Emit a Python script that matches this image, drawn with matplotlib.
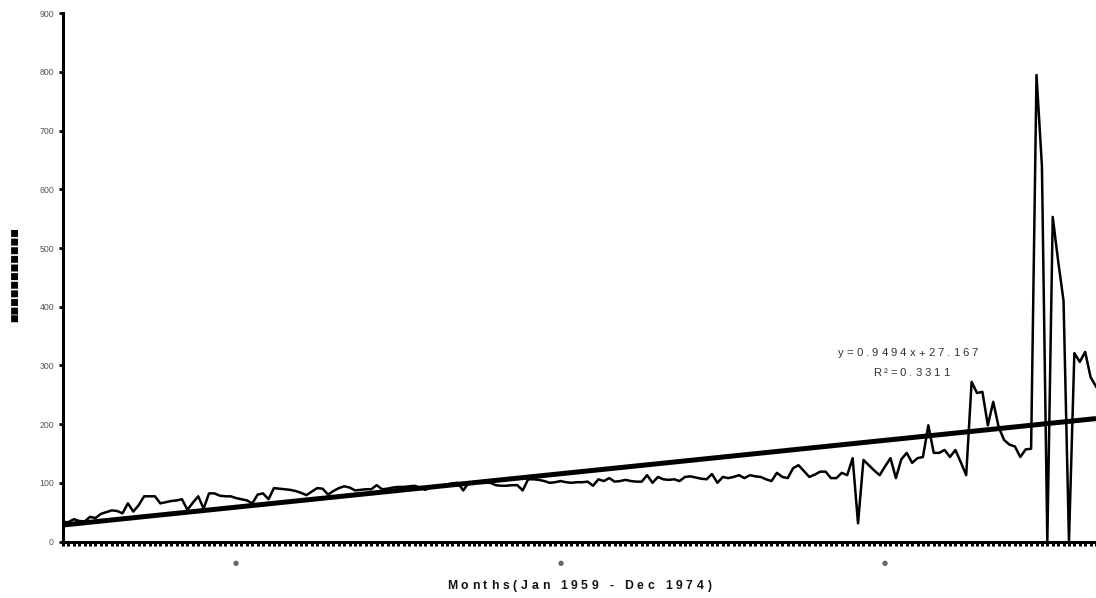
import matplotlib
matplotlib.use("Agg")
import matplotlib.pyplot as plt
import numpy as np
from matplotlib.font_manager import FontProperties

# Monthly values, Jan 1959 - Dec 1974 (one list per year)
y1959 = [33, 33, 38, 35, 34, 42, 40, 47, 50, 53, 52, 48]
y1960 = [65, 51, 62, 77, 77, 77, 65, 67, 69, 70, 72, 54]
y1961 = [66, 77, 56, 82, 82, 78, 77, 77, 74, 72, 70, 65]
y1962 = [80, 82, 72, 91, 90, 89, 88, 86, 83, 79, 85, 91]
y1963 = [90, 80, 86, 91, 94, 92, 87, 88, 89, 89, 96, 89]
y1964 = [90, 92, 93, 93, 94, 95, 92, 88, 92, 93, 95, 97]
y1965 = [99, 100, 87, 100, 100, 100, 100, 100, 96, 95, 95, 96]
y1966 = [96, 87, 106, 106, 105, 103, 100, 101, 103, 101, 100, 101]
y1967 = [101, 102, 95, 106, 103, 108, 102, 103, 105, 103, 102, 102]
y1968 = [113, 100, 110, 106, 105, 106, 103, 110, 111, 109, 107, 106]
y1969 = [115, 100, 110, 108, 110, 113, 108, 113, 111, 110, 106, 103]
y1970 = [117, 110, 108, 125, 130, 120, 110, 114, 119, 119, 108, 108]
y1971 = [117, 113, 142, 31, 139, 130, 121, 113, 128, 142, 108, 140]
y1972 = [151, 134, 142, 144, 198, 151, 151, 156, 144, 156, 135, 113]
y1973 = [272, 253, 255, 198, 238, 195, 173, 165, 162, 144, 157, 158]
y1974 = [795, 640, 0, 553, 478, 410, 0, 321, 306, 323, 280, 264]

values = np.array(y1959 + y1960 + y1961 + y1962 + y1963 + y1964 + y1965 + y1966
                  + y1967 + y1968 + y1969 + y1970 + y1971 + y1972 + y1973 + y1974)
months = np.arange(1, len(values) + 1)

# Linear trend
slope, intercept, r_squared = 0.9494, 27.167, 0.3311
trend = slope * months + intercept

y_ticks = list(range(0, 901, 100))
marked_months = [33, 93, 153]
x_title = "Months(Jan 1959 - Dec 1974)"
eq_text = "y=0.9494x+27.167"
r2_text = "R\u00b2=0.3311"

W, H = 1096, 598
fig = plt.figure(figsize=(W / 100, H / 100), dpi=100)
fig.patch.set_facecolor("white")

ax_left, ax_right, ax_bottom, ax_top = 63, 1096, 541.5, 13.3
ax = fig.add_axes([ax_left / W, (H - ax_bottom) / H,
                   (ax_right - ax_left) / W, (ax_bottom - ax_top) / H])

ax.plot(months, values, color="black", lw=1.8, zorder=3)
ax.plot(months, trend, color="black", lw=3.6, solid_capstyle="butt", zorder=4)

ax.set_xlim(1, 192)
ax.set_ylim(0, 900)
for side in ("top", "right"):
    ax.spines[side].set_visible(False)
for side in ("left", "bottom"):
    ax.spines[side].set_linewidth(2.2)
    ax.spines[side].set_color("black")

ax.set_yticks(y_ticks)
ax.set_yticklabels([str(v) for v in y_ticks], family="Liberation Sans",
                   fontsize=6.3, color="#555555")
ax.tick_params(axis="y", direction="out", length=3, width=2, pad=3.5)

ax.set_xticks(months, minor=True)
ax.set_xticks(marked_months)
ax.set_xticklabels(["\u25cf"] * len(marked_months), fontsize=5, color="#666666")
ax.tick_params(axis="x", which="both", direction="out", length=3, width=2.2, pad=10)


def spread_text(s, left_px, right_px, y_px, size, weight="normal", color="black"):
    """Lay out a string character by character between two pixel x positions."""
    renderer = fig.canvas.get_renderer()
    fp = FontProperties(family="Liberation Sans", size=size, weight=weight)
    space_w = size * 100 / 72 * 0.28
    widths = []
    for ch in s:
        if ch == " ":
            widths.append(space_w)
        else:
            w, _, _ = renderer.get_text_width_height_descent(ch, fp, ismath=False)
            widths.append(w)
    gap = (right_px - left_px - sum(widths)) / max(len(s) - 1, 1)
    x = left_px
    for ch, w in zip(s, widths):
        if ch != " ":
            fig.text(x / W, 1 - y_px / H, ch, fontproperties=fp, color=color,
                     ha="left", va="center")
        x += w + gap


spread_text(eq_text, 838, 978, 353.5, 8.2, color="#333333")
spread_text(r2_text, 873, 949, 373, 8.2, color="#333333")
spread_text(x_title, 447, 711, 586, 8.8, weight="bold", color="#111111")

# Vertical axis caption
fig.text(15 / W, 1 - 275 / H, "\u25a0" * 11, rotation=90, fontsize=6.6,
         ha="center", va="center", color="black")

fig.savefig("out.png", dpi=100)
